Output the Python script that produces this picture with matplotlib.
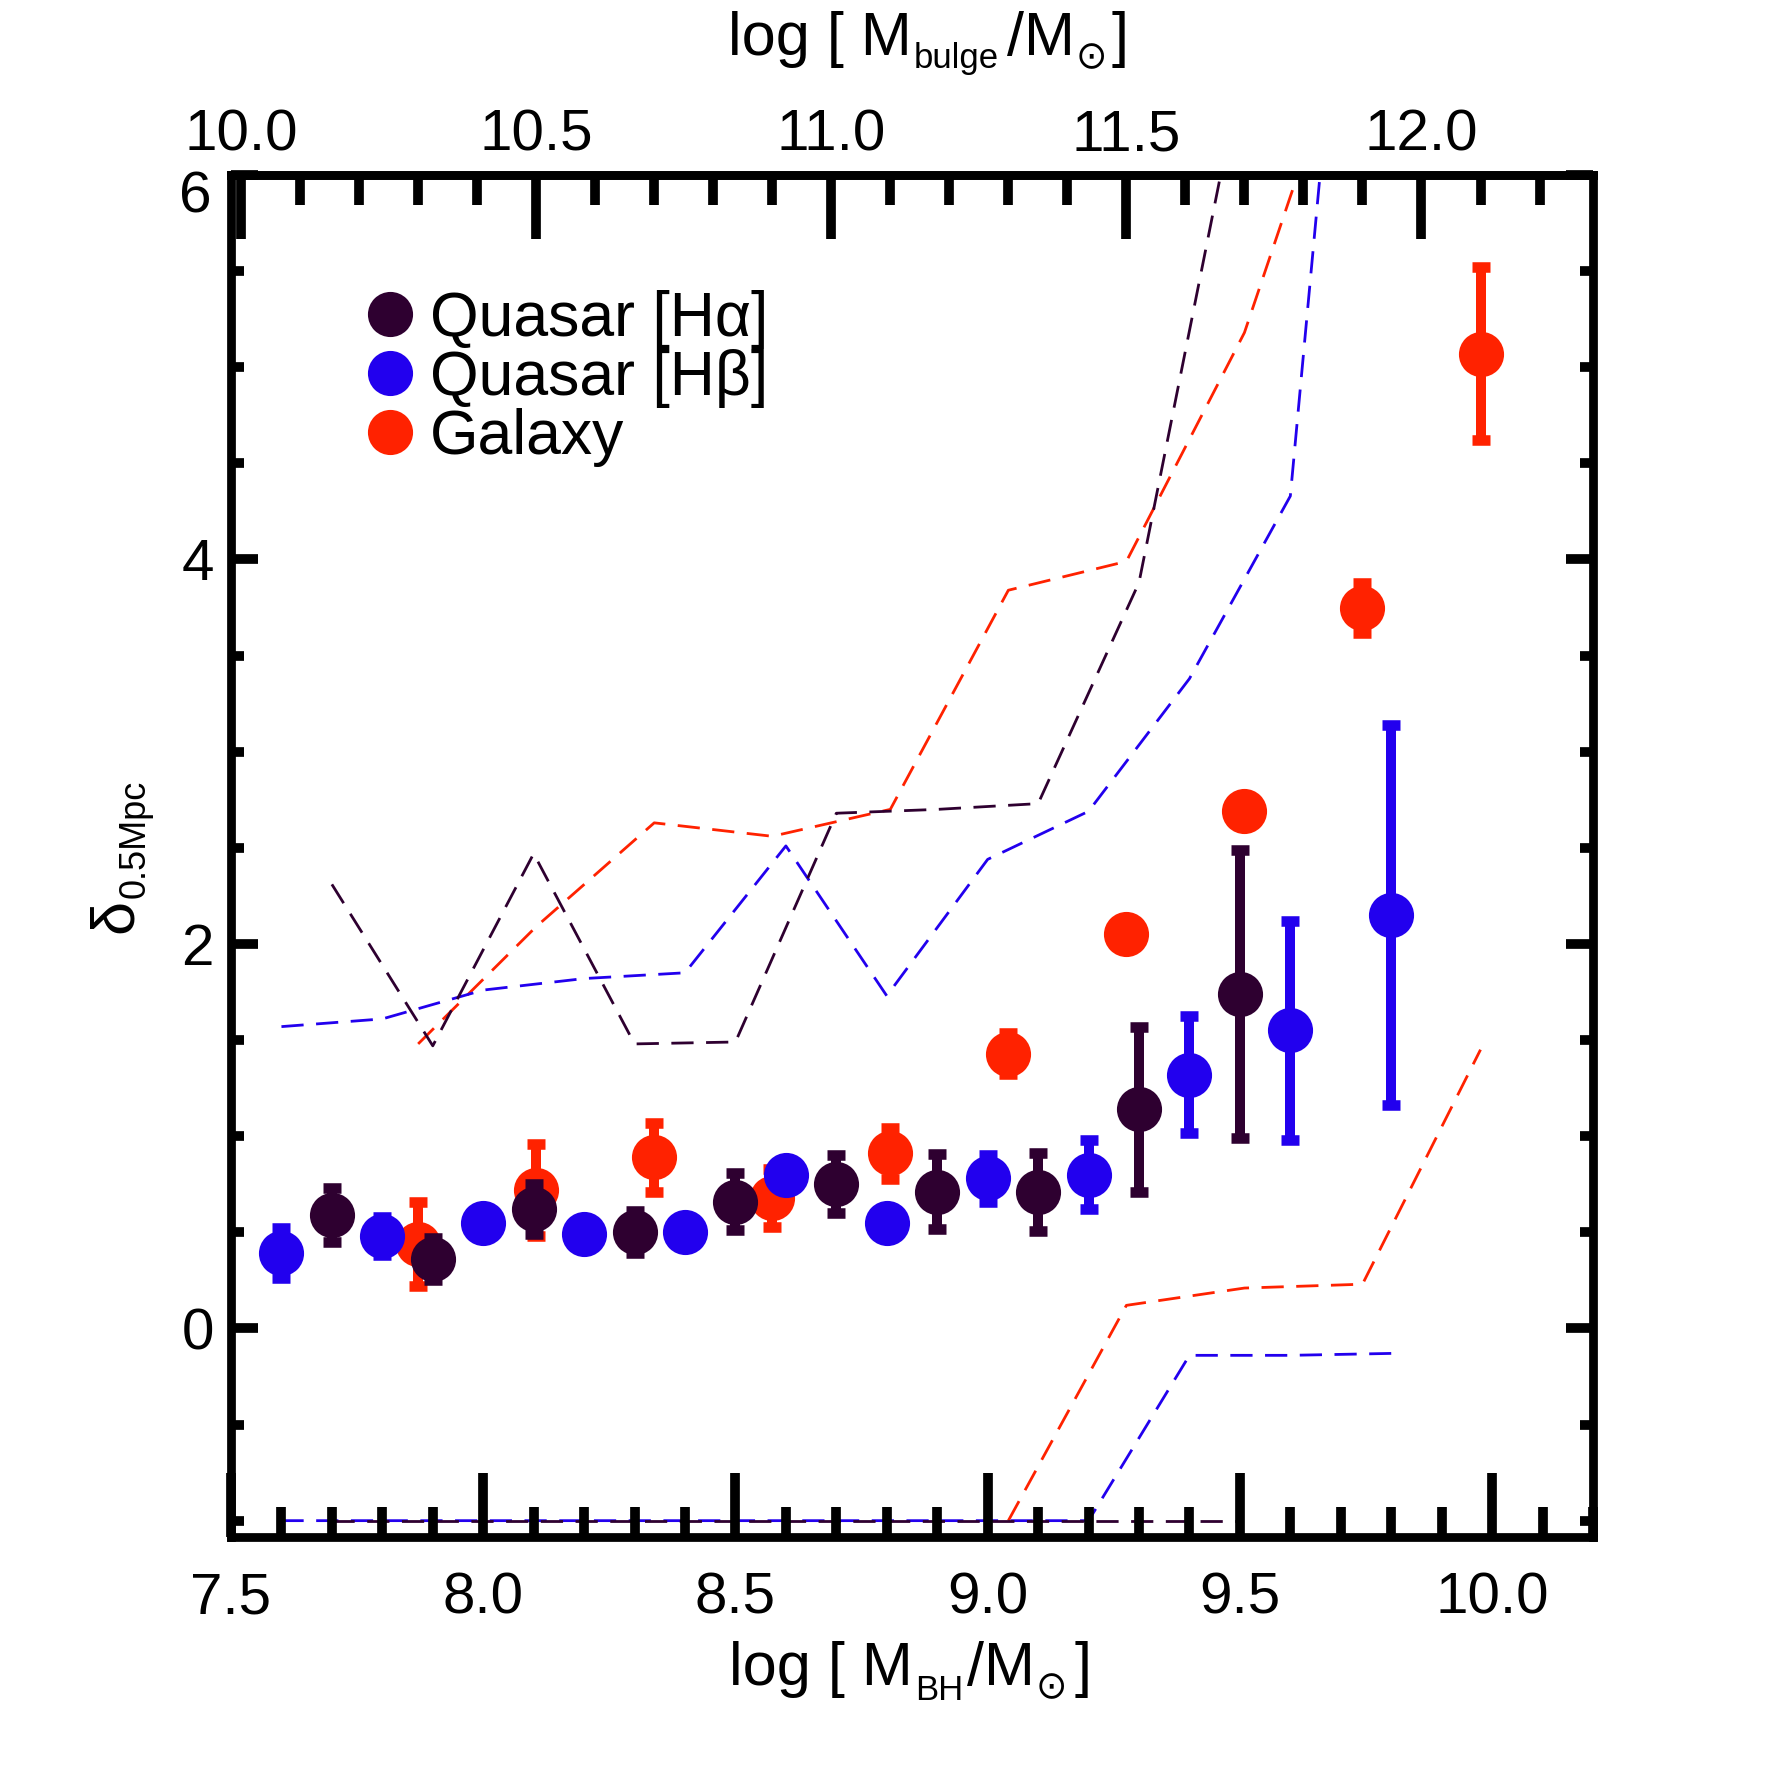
import numpy as np
import matplotlib
matplotlib.use("Agg")
import matplotlib.pyplot as plt
from matplotlib.ticker import MultipleLocator, FixedLocator, FixedFormatter, FormatStrFormatter
from matplotlib.transforms import IdentityTransform, offset_copy
from matplotlib.lines import Line2D

FONT = ["Liberation Sans", "DejaVu Sans"]
plt.rcParams["font.family"] = FONT
plt.rcParams["lines.scale_dashes"] = False

# ---------------- data ----------------
# Quasar [H alpha]
ha_logMbh = [7.7, 7.9, 8.1, 8.3, 8.5, 8.7, 8.9, 9.1, 9.3, 9.5]
ha_delta = [0.59, 0.36, 0.62, 0.50, 0.66, 0.75, 0.71, 0.71, 1.14, 1.74]
ha_err = [0.14, 0.11, 0.13, 0.11, 0.15, 0.15, 0.195, 0.205, 0.43, 0.75]
ha_upper = [2.31, 1.47, 2.47, 1.48, 1.49, 2.68, 2.70, 2.73, 3.88, 6.5]
ha_lower = [-1, -1, -1, -1, -1, -1, -1, -1, -1, -1]

# Quasar [H beta]
hb_logMbh = [7.6, 7.8, 8.0, 8.2, 8.4, 8.6, 8.8, 9.0, 9.2, 9.4, 9.6, 9.8]
hb_delta = [0.39, 0.48, 0.55, 0.49, 0.50, 0.80, 0.55, 0.78, 0.80, 1.32, 1.55, 2.15]
hb_err = [0.13, 0.10, 0.05, 0.05, 0.05, 0.05, 0.05, 0.12, 0.18, 0.305, 0.57, 0.99]
hb_upper = [1.57, 1.61, 1.76, 1.82, 1.85, 2.51, 1.73, 2.44, 2.69, 3.38, 4.33, 10.0]
hb_lower = [-1, -1, -1, -1, -1, -1, -1, -1, -1, -0.14, -0.14, -0.13]

# Galaxy (binned in bulge mass)
gal_logMbulge = [10.3, 10.5, 10.7, 10.9, 11.1, 11.3, 11.5, 11.7, 11.9, 12.1]
gal_delta = [0.44, 0.72, 0.89, 0.68, 0.91, 1.43, 2.05, 2.69, 3.75, 5.07]
gal_err = [0.22, 0.24, 0.18, 0.15, 0.135, 0.107, 0.04, 0.04, 0.13, 0.45]
gal_upper = [1.48, 2.09, 2.63, 2.56, 2.70, 3.84, 3.99, 5.18, 7.0]      # first 9 bins
gal_lower = [-1, 0.12, 0.21, 0.23, 1.45]                               # last 5 bins

legend_labels = ["Quasar [H\u03b1]", "Quasar [H\u03b2]", "Galaxy"]
bottom_ticks = [7.5, 8.0, 8.5, 9.0, 9.5, 10.0]
top_ticks = [10.0, 10.5, 11.0, 11.5, 12.0]
y_ticks = [0, 2, 4, 6]

# M_BH - M_bulge relation used for the top axis
def bulge2bh(b):
    return 8.69 + 1.17 * (np.asarray(b, dtype=float) - 11.0)

def bh2bulge(m):
    return 11.0 + (np.asarray(m, dtype=float) - 8.69) / 1.17

C_HA = "#2e0030"
C_HB = "#2200ee"
C_GAL = "#ff2200"

# ---------------- figure ----------------
W = 1771
fig = plt.figure(figsize=(W / 100, W / 100), dpi=100)
L, R, T, B = 231, 1593, 175, 1537
ax = fig.add_axes([L / W, 1 - B / W, (R - L) / W, (B - T) / W])
ax.set_xlim(7.5, 10.2)
ax.set_ylim(-1.085, 6.0)

dash = (16, 9)
lw_d = 2.0
gal_bh = bulge2bh(gal_logMbulge)
ax.plot(gal_bh[:9], gal_upper, color=C_GAL, lw=lw_d, dashes=dash, zorder=1)
ax.plot(gal_bh[5:], gal_lower, color=C_GAL, lw=lw_d, dashes=dash, zorder=1)
ax.plot(hb_logMbh, hb_upper, color=C_HB, lw=lw_d, dashes=dash, zorder=1)
ax.plot(hb_logMbh, hb_lower, color=C_HB, lw=lw_d, dashes=dash, zorder=1)
ax.plot(ha_logMbh, ha_upper, color=C_HA, lw=lw_d, dashes=dash, zorder=1)
ax.plot(ha_logMbh, ha_lower, color=C_HA, lw=lw_d, dashes=dash, zorder=1)

eb = dict(fmt="o", ms=32.5, elinewidth=7.2, capsize=6.5, capthick=7.6)
for xs, ys, es, c, z in ((gal_bh, gal_delta, gal_err, C_GAL, 2),
                         (ha_logMbh, ha_delta, ha_err, C_HA, 3),
                         (hb_logMbh, hb_delta, hb_err, C_HB, 4)):
    cont = ax.errorbar(xs, ys, yerr=es, color=c, zorder=z, **eb)
    cont[0].set_markeredgewidth(0)

# ---------------- axes styling ----------------
for s in ax.spines.values():
    s.set_linewidth(6.3)
    s.set_capstyle("projecting")

ax.xaxis.set_major_locator(FixedLocator(bottom_ticks))
ax.xaxis.set_minor_locator(MultipleLocator(0.1))
ax.xaxis.set_major_formatter(FormatStrFormatter("%.1f"))
ax.yaxis.set_major_locator(FixedLocator(y_ticks))
ax.yaxis.set_major_formatter(FixedFormatter(["0", "2", "4", ""]))
ax.yaxis.set_minor_locator(MultipleLocator(0.5))

ax.tick_params(axis="x", which="major", direction="in", length=46, width=7,
               top=False, bottom=True, labelsize=42, pad=25)
ax.tick_params(axis="x", which="minor", direction="in", length=21.6, width=7,
               top=False, bottom=True)
ax.tick_params(axis="y", which="major", direction="in", length=19.4, width=7,
               left=True, right=True, labelsize=42, pad=12.5)
ax.tick_params(axis="y", which="minor", direction="in", length=9.4, width=7,
               left=True, right=True)

# the top label "6" sits slightly below its tick
t6 = offset_copy(ax.get_yaxis_transform(), fig=fig, x=-19, y=-17, units="dots")
ax.text(0, y_ticks[-1], "6", transform=t6, ha="right", va="center_baseline",
        fontsize=42)

sec = ax.secondary_xaxis("top", functions=(bh2bulge, bulge2bh))
sec.xaxis.set_major_locator(FixedLocator(top_ticks))
sec.xaxis.set_minor_locator(FixedLocator(np.round(np.arange(10.0, 12.31, 0.1), 1)))
sec.xaxis.set_major_formatter(FormatStrFormatter("%.1f"))
sec.tick_params(axis="x", which="major", direction="in", length=46, width=7,
                labelsize=42, pad=9)
sec.tick_params(axis="x", which="minor", direction="in", length=21.6, width=7)
for s in sec.spines.values():
    s.set_linewidth(6.3)

# ---------------- legend ----------------
handles = [Line2D([], [], ls="none", marker="o", ms=32.5, mew=0, color=c)
           for c in (C_HA, C_HB, C_GAL)]
ax.legend(handles, legend_labels, loc="upper left",
          bbox_to_anchor=((364.7 - L) / (R - L), (B - 290) / (B - T)),
          frameon=False, fontsize=45, borderpad=0, borderaxespad=0,
          handlelength=0.8, handletextpad=0.24, labelspacing=0.0)

# ---------------- composite axis titles ----------------
renderer = fig.canvas.get_renderer()

def compose(pieces, cx, base, rotate=False):
    arts = []
    pos = 0.0
    for s, size, dy, gap in pieces:
        pos += gap
        if rotate:
            t = fig.text(base - dy, cx, s, fontsize=size, rotation=90,
                         rotation_mode="anchor", ha="left", va="baseline",
                         transform=IdentityTransform())
            ext = t.get_window_extent(renderer).height
        else:
            t = fig.text(cx, base + dy, s, fontsize=size, ha="left",
                         va="baseline", transform=IdentityTransform())
            ext = t.get_window_extent(renderer).width
        arts.append((t, pos))
        pos += ext
    start = cx - pos / 2.0
    for t, p in arts:
        if rotate:
            t.set_y(start + p)
        else:
            t.set_x(start + p)

compose([("log [ M", 44, 0, 0), ("BH", 25, -15, 2), ("/M", 44, 0, 4),
         ("\u2299", 27, -13, 1), ("]", 44, 0, 7)], 910, W - 1685)
compose([("log [ M", 44, 0, 0), ("bulge", 25, -13, 2), ("/M", 44, 0, 8),
         ("\u2299", 27, -13, 1), ("]", 44, 0, 4)], 928, W - 55)
compose([("\u03b4", 44, 0, 0), ("0.5Mpc", 26, -13, 1)], W - 856, 132, rotate=True)

fig.savefig("out.png", dpi=100)
